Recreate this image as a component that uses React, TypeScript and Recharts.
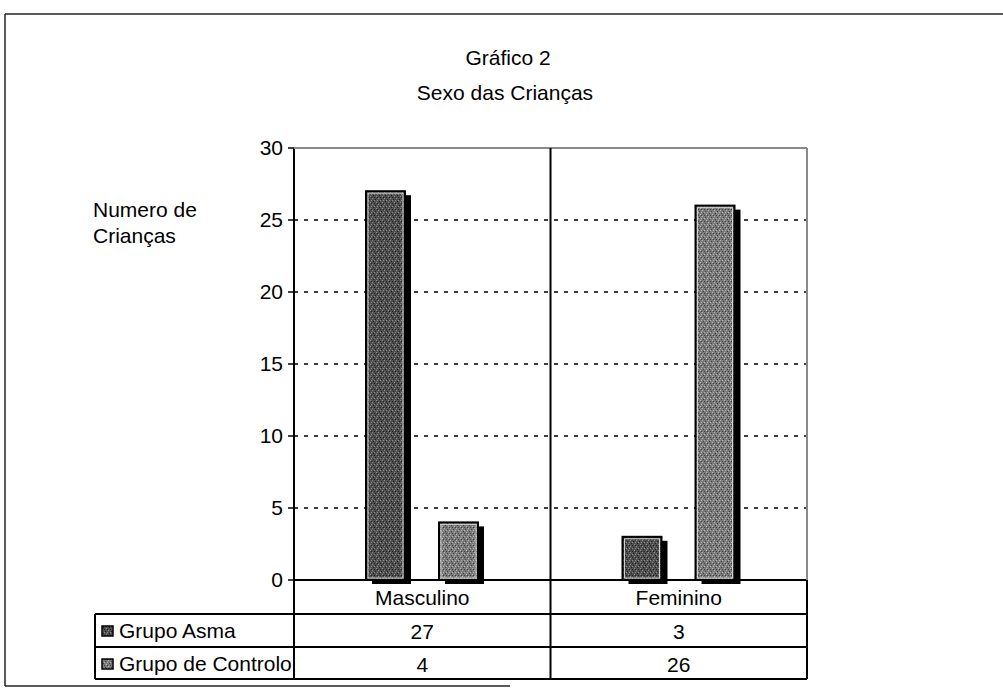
import React from 'react';
import { BarChart, Bar, XAxis, YAxis, CartesianGrid } from 'recharts';

const categories = ['Masculino', 'Feminino'];
const seriesNames = ['Grupo Asma', 'Grupo de Controlo'];
const asmaValues = [27, 3];
const controloValues = [4, 26];
const yTicks = [0, 5, 10, 15, 20, 25, 30];

const data = categories.map((sexo, i) => ({ sexo, asma: asmaValues[i], controlo: controloValues[i] }));
const seriesValues = [asmaValues, controloValues];

// page + plot geometry
const W = 1003;
const H = 689;
const PLOT_LEFT = 294;
const PLOT_TOP = 148;
const PLOT_RIGHT = 807;
const PLOT_BOTTOM = 580;
const Y_AXIS_W = 60;
const X_AXIS_H = 100;
const ROW_1 = 614;
const ROW_2 = 647;
const TABLE_BOTTOM = 679;
const TABLE_LEFT = 95;
const BAND = (PLOT_RIGHT - PLOT_LEFT) / categories.length;

const FONT = '"Liberation Sans", Arial, sans-serif';
const FS = 21;

const Speckle: React.FC<{ id: string; base: string; light: string; dark: string }> = ({ id, base, light, dark }) => (
  <pattern id={id} patternUnits="userSpaceOnUse" width={6} height={6}>
    <rect width={6} height={6} fill={base} />
    <rect x={0} y={0} width={1} height={1} fill={light} />
    <rect x={3} y={1} width={1} height={1} fill={dark} />
    <rect x={5} y={2} width={1} height={1} fill={light} />
    <rect x={1} y={3} width={1} height={1} fill={dark} />
    <rect x={4} y={4} width={1} height={1} fill={light} />
    <rect x={2} y={5} width={1} height={1} fill={dark} />
    <rect x={2} y={2} width={1} height={1} fill={light} />
    <rect x={5} y={5} width={1} height={1} fill={dark} />
  </pattern>
);

const Patterns: React.FC<{ suffix: string }> = ({ suffix }) => (
  <defs>
    <Speckle id={`asma${suffix}`} base="#4f4f4f" light="#8f8f8f" dark="#1e1e1e" />
    <Speckle id={`controlo${suffix}`} base="#7a7a7a" light="#b8b8b8" dark="#3e3e3e" />
  </defs>
);

// bar with a black drop shadow and a thin light inner edge
const ShadowBar = (props: any) => {
  const { x, y, width, height, fill } = props;
  if (!height || height <= 0) return null;
  return (
    <g>
      <rect x={x + 6} y={y + 4} width={width} height={height} fill="#000" />
      <rect x={x} y={y} width={width} height={height} fill={fill} stroke="#000" strokeWidth={2} />
      <rect x={x + 2} y={y + 2} width={width - 4} height={height - 4} fill="none" stroke="#d0d0d0" strokeWidth={1} />
    </g>
  );
};

// category name plus the data table values under each category
const TableTick = (props: any) => {
  const { x, payload } = props;
  const i = categories.indexOf(payload.value);
  return (
    <g fontFamily={FONT} fontSize={FS} fill="#000" textAnchor="middle">
      <text x={x} y={PLOT_BOTTOM + 25}>{payload.value}</text>
      {seriesValues.map((vals, s) => (
        <text key={s} x={x} y={(s === 0 ? ROW_1 : ROW_2) + 25}>{vals[i]}</text>
      ))}
    </g>
  );
};

const App: React.FC = () => {
  const mid = PLOT_LEFT + BAND;
  return (
    <div style={{ position: 'absolute', left: 0, top: 0, width: W, height: H, background: '#fff' }}>
      <BarChart
        width={W}
        height={H}
        data={data}
        margin={{ top: PLOT_TOP, right: W - PLOT_RIGHT, bottom: H - PLOT_BOTTOM - X_AXIS_H, left: PLOT_LEFT - Y_AXIS_W }}
        barSize={39}
        barGap={34}
      >
        <Patterns suffix="Bar" />
        <CartesianGrid vertical={false} stroke="#000" strokeWidth={1.5} strokeDasharray="4 6" />
        <XAxis
          dataKey="sexo"
          height={X_AXIS_H}
          interval={0}
          tickLine={false}
          axisLine={{ stroke: '#000', strokeWidth: 2 }}
          tick={<TableTick />}
        />
        <YAxis
          width={Y_AXIS_W}
          domain={[0, 30]}
          ticks={yTicks}
          interval={0}
          tickSize={6}
          tickMargin={5}
          axisLine={{ stroke: '#000', strokeWidth: 2 }}
          tickLine={{ stroke: '#000', strokeWidth: 1.5 }}
          tick={{ fontSize: FS, fill: '#000', fontFamily: FONT }}
        />
        <Bar dataKey="asma" name={seriesNames[0]} fill="url(#asmaBar)" shape={ShadowBar} isAnimationActive={false} />
        <Bar dataKey="controlo" name={seriesNames[1]} fill="url(#controloBar)" shape={ShadowBar} isAnimationActive={false} />
      </BarChart>

      <svg width={W} height={H} style={{ position: 'absolute', left: 0, top: 0, pointerEvents: 'none' }}>
        <Patterns suffix="Key" />
        {/* outer frame */}
        <line x1={5} y1={14} x2={W} y2={14} stroke="#222" strokeWidth={1.5} />
        <line x1={5} y1={14} x2={5} y2={686} stroke="#222" strokeWidth={1.5} />
        <line x1={5} y1={686} x2={510} y2={686} stroke="#222" strokeWidth={1.5} />

        {/* titles */}
        <g fontFamily={FONT} fontSize={FS} fill="#000">
          <text x={508} y={65} textAnchor="middle">Gráfico 2</text>
          <text x={505} y={100} textAnchor="middle">Sexo das Crianças</text>
          <text x={93} y={217}>Numero de</text>
          <text x={93} y={243}>Crianças</text>
        </g>

        {/* plot frame */}
        <line x1={PLOT_LEFT} y1={PLOT_TOP} x2={PLOT_RIGHT} y2={PLOT_TOP} stroke="#8a8a8a" strokeWidth={2} />
        <line x1={PLOT_RIGHT} y1={PLOT_TOP} x2={PLOT_RIGHT} y2={PLOT_BOTTOM} stroke="#8a8a8a" strokeWidth={2} />
        <line x1={mid} y1={PLOT_TOP} x2={mid} y2={TABLE_BOTTOM} stroke="#000" strokeWidth={2} />

        {/* data table */}
        <g stroke="#000" strokeWidth={2}>
          <line x1={TABLE_LEFT} y1={ROW_1} x2={PLOT_RIGHT} y2={ROW_1} />
          <line x1={TABLE_LEFT} y1={ROW_2} x2={PLOT_RIGHT} y2={ROW_2} />
          <line x1={TABLE_LEFT} y1={TABLE_BOTTOM} x2={PLOT_RIGHT} y2={TABLE_BOTTOM} />
          <line x1={TABLE_LEFT} y1={ROW_1} x2={TABLE_LEFT} y2={TABLE_BOTTOM} />
          <line x1={PLOT_LEFT} y1={PLOT_BOTTOM} x2={PLOT_LEFT} y2={TABLE_BOTTOM} />
          <line x1={PLOT_RIGHT} y1={PLOT_BOTTOM} x2={PLOT_RIGHT} y2={TABLE_BOTTOM} />
        </g>
        {seriesNames.map((name, s) => {
          const top = s === 0 ? ROW_1 : ROW_2;
          return (
            <g key={name}>
              <rect x={102} y={top + 12} width={11} height={10} fill={`url(#${s === 0 ? 'asma' : 'controlo'}Key)`} stroke="#000" strokeWidth={1.5} />
              <text x={119} y={top + 24} fontFamily={FONT} fontSize={FS} fill="#000">{name}</text>
            </g>
          );
        })}
      </svg>
    </div>
  );
};

export default App;
